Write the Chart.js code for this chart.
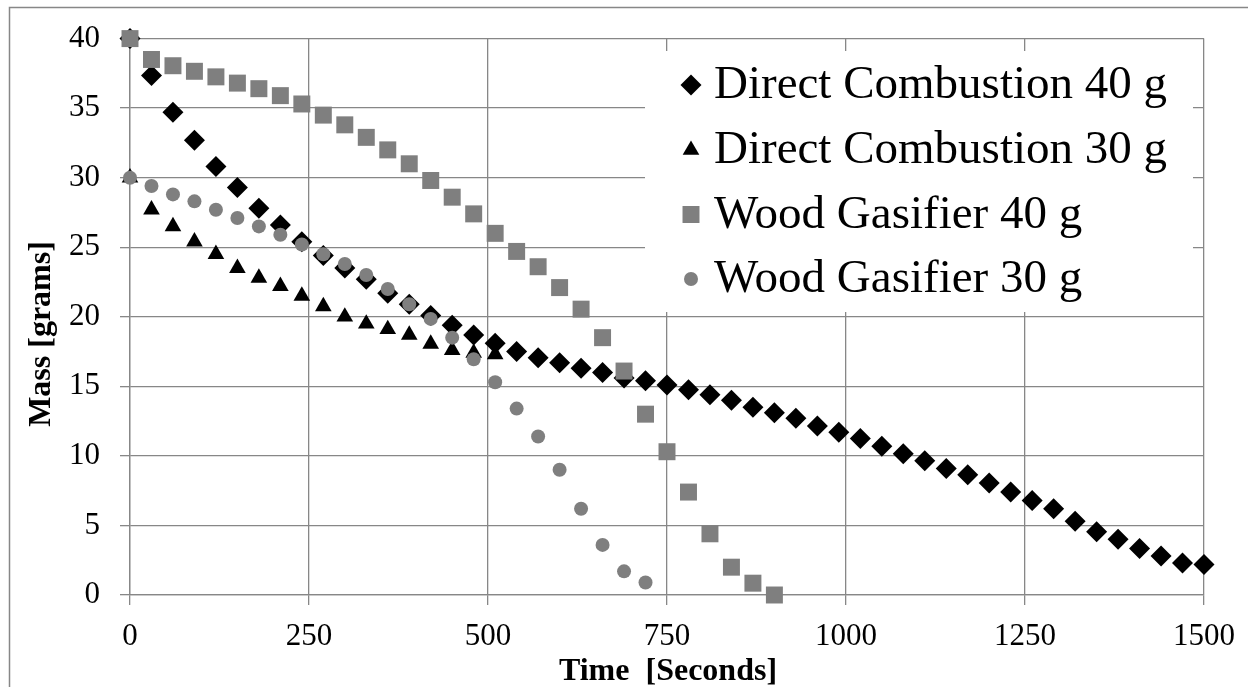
<!DOCTYPE html>
<html>
<head>
<meta charset="utf-8">
<script src="https://cdn.jsdelivr.net/npm/chart.js@4.4.1/dist/chart.umd.min.js"></script>
<style>
  html, body { margin: 0; padding: 0; background: #fff; }
  #wrap { position: relative; width: 1248px; height: 687px; }
</style>
</head>
<body>
<div id="wrap"><canvas id="massChart"></canvas></div>
<script>
// Time stamps (seconds), one reading every 30 s
const timeSeconds = [
    0, 30, 60, 90, 120, 150, 180, 210, 240, 270,
    300, 330, 360, 390, 420, 450, 480, 510, 540, 570,
    600, 630, 660, 690, 720, 750, 780, 810, 840, 870,
    900, 930, 960, 990, 1020, 1050, 1080, 1110, 1140, 1170,
    1200, 1230, 1260, 1290, 1320, 1350, 1380, 1410, 1440, 1470,
    1500
];

// Mass readings in grams, starting at t = 0
const directCombustion40 = [
    40, 37.35, 34.7, 32.7, 30.8, 29.3, 27.8, 26.6, 25.4, 24.4,
    23.5, 22.7, 21.7, 20.9, 20.1, 19.4, 18.7, 18.1, 17.5, 17.05,
    16.7, 16.3, 16.0, 15.6, 15.4, 15.1, 14.75, 14.4, 14.0, 13.5,
    13.1, 12.7, 12.15, 11.7, 11.25, 10.7, 10.15, 9.65, 9.1, 8.65,
    8.05, 7.4, 6.8, 6.2, 5.3, 4.55, 4.0, 3.35, 2.8, 2.3,
    2.2
];
const directCombustion30 = [
    30, 27.7, 26.5, 25.4, 24.5, 23.5, 22.8, 22.2, 21.5, 20.75,
    20.0, 19.5, 19.1, 18.7, 18.05, 17.6, 17.4, 17.3
];
const woodGasifier40 = [
    40, 38.5, 38.05, 37.65, 37.25, 36.8, 36.4, 35.9, 35.3, 34.5,
    33.8, 32.9, 32.0, 31.0, 29.8, 28.6, 27.4, 26.0, 24.7, 23.6,
    22.1, 20.55, 18.5, 16.1, 13.0, 10.3, 7.4, 4.4, 2.0, 0.85,
    0.0
];
const woodGasifier30 = [
    30, 29.4, 28.8, 28.3, 27.7, 27.1, 26.5, 25.9, 25.2, 24.5,
    23.8, 23.0, 22.0, 20.9, 19.85, 18.5, 16.95, 15.3, 13.4, 11.4,
    9.0, 6.2, 3.6, 1.7, 0.9
];

const seriesNames = [
    "Direct Combustion 40 g",
    "Direct Combustion 30 g",
    "Wood Gasifier 40 g",
    "Wood Gasifier 30 g"
];

const BLACK = '#000000';
const GRAY = '#7f7f7f';
const GRID = '#878787';
const SERIF = "'Liberation Serif', 'Times New Roman', serif";

Chart.defaults.font.family = SERIF;
Chart.defaults.font.size = 31;
Chart.defaults.color = '#000';

// pair each reading with its time stamp
function toPoints(values) {
    return values.map((v, i) => ({ x: timeSeconds[i], y: v }));
}

const markerStyles = [
    { pointStyle: 'rectRot', radius: 10.5, color: BLACK },
    { pointStyle: 'triangle', radius: 9.6, color: BLACK },
    { pointStyle: 'rect', radius: 12, color: GRAY },
    { pointStyle: 'circle', radius: 7, color: GRAY }
];

const allSeries = [directCombustion40, directCombustion30, woodGasifier40, woodGasifier30];

// legend drawn inside the plot, on a white box like the original
const insideLegend = {
    id: 'insideLegend',
    afterDraw(chart) {
        const ctx = chart.ctx;
        ctx.save();
        ctx.fillStyle = '#fff';
        ctx.fillRect(645, 51, 548, 261);
        const rows = [85, 150, 214.5, 279];
        ctx.font = '47px ' + SERIF;
        ctx.textBaseline = 'middle';
        ctx.textAlign = 'left';
        seriesNames.forEach((name, i) => {
            const m = markerStyles[i];
            ctx.fillStyle = m.color;
            Chart.helpers.drawPoint(ctx, {
                pointStyle: m.pointStyle, radius: m.radius, rotation: 0, borderWidth: 0
            }, 691, rows[i]);
            ctx.fillStyle = '#000';
            ctx.fillText(name, 714, rows[i] + 1);
        });
        ctx.restore();
    }
};

// outer chart border and axis titles
const frameAndTitles = {
    id: 'frameAndTitles',
    beforeDraw(chart) {
        const ctx = chart.ctx;
        ctx.save();
        ctx.fillStyle = '#fff';
        ctx.fillRect(0, 0, chart.width, chart.height);
        ctx.strokeStyle = GRID;
        ctx.lineWidth = 1.5;
        ctx.strokeRect(9.5, 7.5, 1400, 1000);
        ctx.restore();
    },
    afterDraw(chart) {
        const ctx = chart.ctx;
        ctx.save();
        ctx.fillStyle = '#000';
        ctx.font = 'bold 32px ' + SERIF;
        ctx.textAlign = 'center';
        ctx.textBaseline = 'alphabetic';
        ctx.fillText('Time  [Seconds]', 668, 680);
        ctx.translate(50, 334);
        ctx.rotate(-Math.PI / 2);
        ctx.fillText('Mass [grams]', 0, 0);
        ctx.restore();
    }
};

const ctx = document.getElementById('massChart').getContext('2d');
const massChart = new Chart(ctx, {
    type: 'scatter',
    data: {
        datasets: allSeries.map((values, i) => ({
            label: seriesNames[i],
            data: toPoints(values),
            pointStyle: markerStyles[i].pointStyle,
            pointRadius: markerStyles[i].radius,
            pointBackgroundColor: markerStyles[i].color,
            pointBorderWidth: 0,
            pointHoverRadius: markerStyles[i].radius,
            showLine: false,
            clip: false,
            order: 4 - i
        }))
    },
    options: {
        responsive: true,
        maintainAspectRatio: false,
        animation: false,
        layout: { padding: { left: 0, top: 33, right: 42, bottom: 0 } },
        plugins: {
            legend: { display: false },
            tooltip: { enabled: false }
        },
        scales: {
            x: {
                type: 'linear',
                min: 0,
                max: 1500,
                afterFit(scale) { scale.height = 92; },
                ticks: {
                    stepSize: 250,
                    padding: 13,
                    color: '#000',
                    font: { family: SERIF, size: 31 },
                    maxRotation: 0,
                    callback: (v) => String(v)
                },
                grid: { color: GRID, lineWidth: 1.3, tickLength: 10 },
                border: { color: GRID, width: 1.3 }
            },
            y: {
                min: 0,
                max: 40,
                afterFit(scale) { scale.width = 130; },
                ticks: {
                    stepSize: 5,
                    padding: 20,
                    color: '#000',
                    font: { family: SERIF, size: 31 },
                    callback: (v) => String(v)
                },
                grid: { color: GRID, lineWidth: 1.3, tickLength: 10 },
                border: { color: GRID, width: 1.3 }
            }
        }
    },
    plugins: [frameAndTitles, insideLegend]
});
</script>
</body>
</html>
